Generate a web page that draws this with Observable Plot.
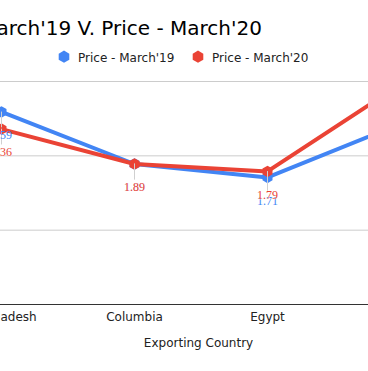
<!DOCTYPE html>
<html><head><meta charset="utf-8">
<script src="https://cdn.jsdelivr.net/npm/d3@7"></script>
<script src="https://cdn.jsdelivr.net/npm/@observablehq/plot@0.6"></script>
<style>
body{margin:0;background:#fff;}
#wrap{position:relative;width:368px;height:371px;overflow:hidden;background:#fff;}
#chart{position:absolute;left:-66.5px;top:0;width:532px;height:371px;}
#chart svg{max-width:none !important;width:532px;height:371px;display:block;}
#overlay{position:absolute;left:0;top:0;}
</style></head><body>
<div id="wrap"><div id="chart"></div><svg id="overlay" width="368" height="371"></svg></div>
<script>
const countries = ["Bangladesh", "Columbia", "Egypt", "India"];
const march19 = [2.59, 1.89, 1.71, 2.43];
const march20 = [2.36, 1.89, 1.79, 2.96];
const seriesNames = ["Price - March'19", "Price - March'20"];
const colors = ["#4285F4", "#EA4335"];
const gridTicks = [1, 2, 3];
const titleText = "Price - March'19 V. Price - March'20";
const xTitle = "Exporting Country";

const rows = [];
[march19, march20].forEach((vals, i) => {
  countries.forEach((c, j) => rows.push({series: seriesNames[i], country: c, value: vals[j]}));
});
const s19 = rows.filter(d => d.series === seriesNames[0]);
const s20 = rows.filter(d => d.series === seriesNames[1]);

const stem = {draw(ctx, l) { ctx.moveTo(0, 0); ctx.lineTo(0, -l); }};
const font = "DejaVu Sans, Verdana, sans-serif";
const serif = "Liberation Serif, Times New Roman, serif";

const chart = Plot.plot({
  width: 532, height: 371,
  marginLeft: 0, marginRight: 0, marginTop: 81, marginBottom: 67,
  style: {fontFamily: font, fontSize: "12px", color: "#222", background: "transparent"},
  x: {type: "point", domain: countries, padding: 0.5, label: null},
  y: {domain: [0, 3], axis: null},
  color: {domain: seriesNames, range: colors},
  marks: [
    Plot.ruleY(gridTicks, {stroke: "#cccccc"}),
    Plot.ruleY([0], {stroke: "#333"}),
    Plot.axisX({tickSize: 0, tickPadding: 7.5, fontSize: 12, fill: "#222"}),
    Plot.text([xTitle], {frameAnchor: "bottom", dy: 42, dx: -2, fontSize: 12, fill: "#222"}),
    Plot.line(s19, {x: "country", y: "value", stroke: "series", strokeWidth: 4}),
    Plot.dot(s19, {x: "country", y: "value", fill: "series", symbol: "hexagon", r: 5}),
    Plot.line(s20, {x: "country", y: "value", stroke: "series", strokeWidth: 4}),
    Plot.dot(s20, {x: "country", y: "value", fill: "series", symbol: "hexagon", r: 5}),
    Plot.vector(rows, {x: "country", y: "value", length: 15, rotate: 180, anchor: "start", shape: stem, stroke: "#d0d0d0", strokeWidth: 1}),
    Plot.text(s19, {x: "country", y: "value", text: d => d.value.toFixed(2), dy: 23.5, fill: colors[0], fontFamily: serif, fontSize: 12}),
    Plot.text(s20, {x: "country", y: "value", text: d => d.value.toFixed(2), dy: 23.5, fill: colors[1], stroke: "#fff", strokeWidth: 0.6, paintOrder: "stroke", fontFamily: serif, fontSize: 12})
  ]
});
document.getElementById("chart").appendChild(chart);

const ov = d3.select("#overlay");
ov.append("text").attr("x", 262).attr("y", 35).attr("text-anchor", "end")
  .attr("font-family", font).attr("font-size", 20).attr("fill", "#000").text(titleText);
const hex = r => {
  const ry = r * 2 / Math.sqrt(3), hy = ry / 2;
  return `M0,${ry}L${r},${hy}L${r},${-hy}L0,${-ry}L${-r},${-hy}L${-r},${hy}Z`;
};
const legendX = [64, 198];
seriesNames.forEach((s, i) => {
  const g = ov.append("g").attr("transform", `translate(${legendX[i]},56.7)`);
  g.append("path").attr("d", hex(5.3)).attr("fill", colors[i]);
  g.append("text").attr("x", 14).attr("y", 5).attr("font-family", font).attr("font-size", 12).attr("fill", "#222").text(s);
});
</script>
</body></html>
